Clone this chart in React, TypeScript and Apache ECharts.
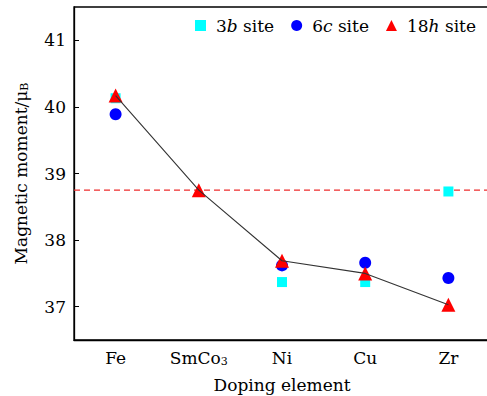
import React, { useEffect, useRef } from "react";
import * as echarts from "echarts";

const categories = ["Fe", "SmCo3", "Ni", "Cu", "Zr"];
const site3b: (number | string)[] = [40.13, "-", 37.37, 37.37, 38.73];
const site6c: (number | string)[] = [39.89, "-", 37.62, 37.66, 37.43];
const site18h = [40.17, 38.75, 37.69, 37.5, 37.03];
const referenceValue = 38.75;

const FONT = "DejaVu Serif";
const FS = 17;

export default function App() {
  const ref = useRef<HTMLDivElement>(null);
  useEffect(() => {
    document.body.style.margin = "0";
    const chart = echarts.init(ref.current!, null, { renderer: "svg" });
    chart.setOption({
      animation: false,
      backgroundColor: "#fff",
      textStyle: { fontFamily: FONT },
      grid: {
        left: 74,
        top: 7,
        right: -3,
        bottom: 56,
        outerBoundsMode: "none",
        containLabel: false,
        show: true,
        borderColor: "#000",
        borderWidth: 1.3,
      },
      legend: {
        data: ["3b site", "6c site", "18h site"],
        top: 12,
        right: 6,
        itemGap: 17,
        itemWidth: 11,
        itemHeight: 11,
        textStyle: {
          fontFamily: FONT,
          fontSize: FS,
          color: "#000",
          rich: {
            sp: { width: 5 },
            i: { fontFamily: FONT, fontSize: FS, fontStyle: "italic", color: "#000" },
            n: { fontFamily: FONT, fontSize: FS, color: "#000" },
          },
        },
        formatter: (name: string) => {
          const parts = name.split(" ");
          const m = parts[0].match(/^(\d+)([a-z])$/);
          if (m) return `{sp|}{n|${m[1]}}{i|${m[2]}}{n| ${parts[1]}}`;
          return name;
        },
      },
      xAxis: [
        {
          type: "category",
          data: categories,
          boundaryGap: true,
          name: "Doping element",
          nameLocation: "middle",
          nameGap: 36,
          nameTextStyle: { fontFamily: FONT, fontSize: FS, color: "#000" },
          axisLine: { lineStyle: { color: "#000", width: 1.3 } },
          axisTick: { inside: true, length: 5, alignWithLabel: true, lineStyle: { color: "#000" } },
          axisLabel: {
            interval: 0,
            color: "#000",
            fontFamily: FONT,
            fontSize: FS,
            margin: 9,
            formatter: (v: string) => (v === "SmCo3" ? "{n|SmCo}{sub|3}" : v),
            rich: {
              n: { fontSize: FS, color: "#000", fontFamily: FONT },
              sub: { fontSize: 11, verticalAlign: "bottom", padding: [7, 0, 0, 0], color: "#000", fontFamily: FONT },
            },
          },
          splitLine: { show: false },
        },
        {
          type: "value",
          min: 0,
          max: 1,
          show: false,
        },
      ],
      yAxis: {
        type: "value",
        min: 36.5,
        max: 41.5,
        splitNumber: 5,
        name: "{n|Magnetic moment/μ}{sub|B}",
        nameLocation: "middle",
        nameGap: 44,
        nameTextStyle: {
          fontFamily: FONT,
          fontSize: FS,
          color: "#000",
          rich: {
            n: { fontSize: FS, fontFamily: FONT, color: "#000" },
            sub: { fontSize: 11, fontFamily: FONT, color: "#000", padding: [7, 0, 0, 0] },
          },
        },
        axisLine: { show: true, lineStyle: { color: "#000", width: 1.3 } },
        axisTick: { inside: true, length: 5, lineStyle: { color: "#000" } },
        axisLabel: {
          color: "#000",
          fontFamily: FONT,
          fontSize: FS,
          margin: 8,
          showMinLabel: false,
          showMaxLabel: false,
        },
        splitLine: { show: false },
      },
      series: [
        {
          name: "reference",
          type: "line",
          xAxisIndex: 1,
          data: [
            [0, referenceValue],
            [1, referenceValue],
          ],
          symbol: "none",
          silent: true,
          lineStyle: { color: "#EE2C2C", type: [6, 4], width: 1.2 },
          z: 1,
        },
        {
          name: "3b site",
          type: "scatter",
          data: site3b,
          symbol: "rect",
          symbolSize: 10,
          itemStyle: { color: "#00FFFF", opacity: 1 },
          z: 2,
        },
        {
          name: "6c site",
          type: "scatter",
          data: site6c,
          symbol: "circle",
          symbolSize: 12,
          itemStyle: { color: "#0000FF", opacity: 1 },
          z: 3,
        },
        {
          name: "18h site",
          type: "scatter",
          data: site18h,
          symbol: "triangle",
          symbolSize: 14,
          itemStyle: { color: "#FF0000", opacity: 1 },
          z: 4,
        },
        {
          name: "18h line",
          type: "line",
          data: site18h,
          symbol: "none",
          lineStyle: { color: "#333", width: 1.1 },
          z: 5,
        },
      ],
    });
    return () => chart.dispose();
  }, []);
  return <div ref={ref} style={{ width: 487, height: 396 }} />;
}
